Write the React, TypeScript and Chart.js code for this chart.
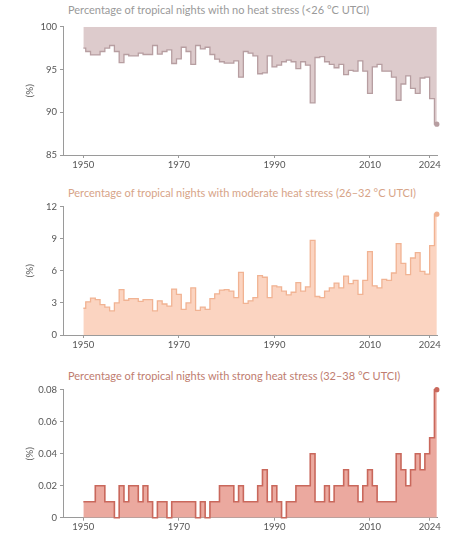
import React, { useEffect, useRef } from "react";
import { Chart, registerables } from "chart.js";

Chart.register(...registerables);

const YEARS = [
  1950, 1951, 1952, 1953, 1954, 1955, 1956, 1957, 1958, 1959,
  1960, 1961, 1962, 1963, 1964, 1965, 1966, 1967, 1968, 1969,
  1970, 1971, 1972, 1973, 1974, 1975, 1976, 1977, 1978, 1979,
  1980, 1981, 1982, 1983, 1984, 1985, 1986, 1987, 1988, 1989,
  1990, 1991, 1992, 1993, 1994, 1995, 1996, 1997, 1998, 1999,
  2000, 2001, 2002, 2003, 2004, 2005, 2006, 2007, 2008, 2009,
  2010, 2011, 2012, 2013, 2014, 2015, 2016, 2017, 2018, 2019,
  2020, 2021, 2022, 2023, 2024,
];

const NO_STRESS = [
  97.5, 97.1, 96.7, 96.7, 97.1, 97.5, 97.8, 97.1, 95.8, 96.75,
  96.6, 96.6, 96.9, 96.75, 96.75, 97.8, 96.8, 97.1, 97.3, 95.7,
  96.25, 97.6, 97.1, 95.6, 97.8, 97.4, 97.6, 96.75, 96.2, 95.9,
  95.75, 95.75, 96.0, 94.1, 97.1, 96.9, 96.6, 94.5, 94.6, 96.6,
  95.3, 95.5, 95.9, 96.1, 95.9, 95.1, 95.9, 95.5, 91.1, 96.4,
  96.5, 95.9, 95.6, 95.2, 95.6, 94.4, 94.9, 94.8, 96.0, 94.8,
  92.2, 95.3, 95.6, 94.8, 94.8, 94.1, 91.4, 93.3, 94.25, 92.8,
  92.2, 94.0, 94.1, 91.6, 88.6,
];

const MODERATE = [
  2.5, 3.1, 3.45, 3.3, 2.85, 2.6, 2.25, 3.0, 4.25, 3.25,
  3.4, 3.4, 3.15, 3.3, 3.3, 2.25, 3.2, 2.9, 2.7, 4.3,
  3.8, 2.4, 3.0, 4.4, 2.3, 2.6, 2.4, 3.4, 3.85, 4.2,
  4.25, 4.1, 3.5, 5.85, 2.95, 3.2, 3.5, 5.55, 5.4, 3.5,
  4.6, 4.5, 4.1, 3.75, 4.0, 4.9, 4.1, 4.5, 8.85, 3.6,
  3.5, 4.1, 4.4, 4.85, 4.4, 5.5, 4.8, 5.1, 3.8, 5.1,
  7.8, 4.6, 4.4, 5.2, 5.1, 5.8, 8.55, 6.7, 5.65, 7.2,
  7.7, 5.95, 5.7, 8.35, 11.3,
];

const STRONG = [
  0.01, 0.01, 0.01, 0.02, 0.02, 0.01, 0.01, 0, 0.02, 0.01,
  0.02, 0.02, 0.01, 0.02, 0.01, 0, 0.01, 0.01, 0, 0.01,
  0.01, 0.01, 0.01, 0.01, 0, 0.01, 0, 0.01, 0.01, 0.02,
  0.02, 0.02, 0.01, 0.02, 0.01, 0.01, 0.01, 0.02, 0.03, 0.01,
  0.02, 0.01, 0, 0.01, 0.01, 0.02, 0.02, 0.02, 0.04, 0.01,
  0.01, 0.02, 0.01, 0.02, 0.02, 0.03, 0.02, 0.02, 0.01, 0.02,
  0.03, 0.02, 0.01, 0.01, 0.01, 0.01, 0.04, 0.03, 0.02, 0.03,
  0.04, 0.03, 0.04, 0.05, 0.08,
];

const X_TICKS = [1950, 1970, 1990, 2010, 2022.5];
const X_TICK_LABELS = ["1950", "1970", "1990", "2010", "2024"];

const TITLES = [
  "Percentage of tropical nights with no heat stress (<26 °C UTCI)",
  "Percentage of tropical nights with moderate heat stress (26–32 °C UTCI)",
  "Percentage of tropical nights with strong heat stress (32–38 °C UTCI)",
];

const FONT = "Lato, 'Open Sans', sans-serif";

type PanelCfg = {
  values: number[];
  min: number;
  max: number;
  step: number;
  fill: string;
  line: string;
  lineWidth: number;
  fillMode: string;
  canvasTop: number;
  canvasH: number;
  plotTop: number;
  plotBottom: number;
  titleTop: number;
  titleColor: string;
  title: string;
};

const PANELS: PanelCfg[] = [
  {
    values: NO_STRESS, min: 85, max: 100, step: 5,
    fill: "#ddcbcc", line: "#b79ea1", lineWidth: 1.3, fillMode: "end",
    canvasTop: 18, canvasH: 160, plotTop: 25.3, plotBottom: 155,
    titleTop: 3, titleColor: "#9a9a9a", title: TITLES[0],
  },
  {
    values: MODERATE, min: 0, max: 12, step: 3,
    fill: "#fbd4c1", line: "#f1b393", lineWidth: 1.3, fillMode: "origin",
    canvasTop: 198, canvasH: 160, plotTop: 205.7, plotBottom: 335,
    titleTop: 186, titleColor: "#d7a488", title: TITLES[1],
  },
  {
    values: STRONG, min: 0, max: 0.08, step: 0.02,
    fill: "#eba99f", line: "#c9685c", lineWidth: 1.6, fillMode: "origin",
    canvasTop: 381, canvasH: 159, plotTop: 388.3, plotBottom: 517.7,
    titleTop: 369, titleColor: "#c07d70", title: TITLES[2],
  },
];

function Panel({ cfg }: { cfg: PanelCfg }) {
  const ref = useRef<HTMLCanvasElement | null>(null);
  useEffect(() => {
    if (!ref.current) return;
    const n = cfg.values.length;
    const data = YEARS.map((yr, i) => ({ x: yr, y: cfg.values[i] }));
    const chart = new Chart(ref.current, {
      type: "line",
      data: {
        datasets: [
          {
            data,
            stepped: "middle",
            borderColor: cfg.line,
            backgroundColor: cfg.fill,
            borderWidth: cfg.lineWidth,
            fill: cfg.fillMode as any,
            pointRadius: (c: any) => (c.dataIndex === n - 1 ? 2.6 : 0),
            pointBackgroundColor: cfg.line,
            pointBorderWidth: 0,
            pointHoverRadius: 0,
            clip: false as any,
          } as any,
        ],
      },
      options: {
        animation: false,
        responsive: false,
        maintainAspectRatio: false,
        events: [],
        layout: {
          padding: { top: cfg.plotTop - cfg.canvasTop, right: 20.7, left: 0, bottom: 0 },
        },
        plugins: { legend: { display: false }, tooltip: { enabled: false }, title: { display: false } },
        scales: {
          x: {
            type: "linear",
            min: 1945.74,
            max: 2024.1,
            afterFit: (s: any) => {
              s.height = cfg.canvasTop + cfg.canvasH - cfg.plotBottom;
            },
            afterBuildTicks: (s: any) => {
              s.ticks = X_TICKS.map((v) => ({ value: v }));
            },
            ticks: {
              autoSkip: false,
              maxRotation: 0,
              padding: 1,
              color: "#555555",
              font: { family: FONT, size: 9.5 },
              callback: (v: any) => {
                const i = X_TICKS.indexOf(Number(v));
                return i >= 0 ? X_TICK_LABELS[i] : "";
              },
            },
            grid: { display: true, drawOnChartArea: false, drawTicks: true, tickLength: 3, color: "#9a9a9a" },
            border: { display: true, color: "#9a9a9a", width: 1 },
          },
          y: {
            min: cfg.min,
            max: cfg.max,
            afterFit: (s: any) => {
              s.width = 63;
            },
            ticks: {
              stepSize: cfg.step,
              padding: 3,
              color: "#555555",
              font: { family: FONT, size: 9.5 },
            },
            title: {
              display: true,
              text: "(%)",
              color: "#555555",
              font: { family: FONT, size: 10 },
              padding: { top: 24, bottom: 0 },
            },
            grid: { display: true, drawOnChartArea: false, drawTicks: true, tickLength: 3, color: "#9a9a9a" },
            border: { display: true, color: "#9a9a9a", width: 1 },
          },
        },
      },
    });
    return () => chart.destroy();
  }, [cfg]);

  return (
    <>
      <div
        style={{
          position: "absolute",
          left: 68,
          top: cfg.titleTop,
          fontFamily: FONT,
          fontSize: 11,
          lineHeight: "14px",
          color: cfg.titleColor,
          whiteSpace: "nowrap",
        }}
      >
        {cfg.title}
      </div>
      <canvas
        ref={ref}
        width={458}
        height={cfg.canvasH}
        style={{ position: "absolute", left: 0, top: cfg.canvasTop, width: 458, height: cfg.canvasH }}
      />
    </>
  );
}

export default function App() {
  useEffect(() => {
    document.body.style.margin = "0";
    document.body.style.background = "#ffffff";
  }, []);
  return (
    <div style={{ position: "relative", width: 458, height: 540, overflow: "hidden", background: "#fff" }}>
      {PANELS.map((p, i) => (
        <Panel key={i} cfg={p} />
      ))}
    </div>
  );
}
